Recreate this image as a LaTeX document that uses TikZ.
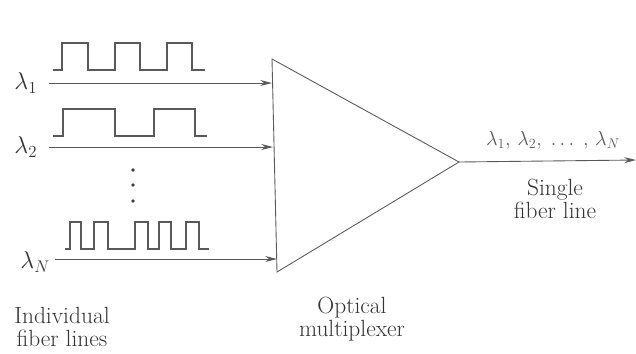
\documentclass[tikz,border=0pt]{standalone}
\usepackage{tikz}
\usetikzlibrary{arrows.meta,positioning,calc}

\begin{document}
\begin{tikzpicture}[
    x=0.03cm, y=-0.03cm,
    line/.style={draw=black!65, line width=0.75pt},
    arrow/.style={->, >={Stealth[length=10pt,width=5pt]}, draw=black!65, line width=0.75pt},
    pulse/.style={draw=black!65, line width=1pt},
    lam/.style={text=black!80, font=\fontsize{22}{24}\selectfont, inner sep=1pt},
    caption/.style={text=black!80, font=\fontsize{20}{20}\selectfont, align=center}
]
\useasboundingbox (0,0) rectangle (636,353);

% Multiplexer triangle
\coordinate (mtop) at (272,59);
\coordinate (mbot) at (277,272);
\coordinate (mtip) at (459,162);
\draw[line] (mtop) -- (mtip) -- (mbot) -- cycle;

% Input points on the left edge
\coordinate (in1) at (272,83);
\coordinate (in2) at (273,147);
\coordinate (inN) at (277,259);

% Wavelength labels
\node[lam, anchor=west] (lam1) at (13,83) {$\lambda_1$};
\node[lam, anchor=west] (lam2) at (13,147) {$\lambda_2$};
\node[lam, anchor=west] (lamN) at (19,262) {$\lambda_N$};

% Input fibers
\draw[arrow, shorten <=0.3cm] (lam1.east |- in1) -- (in1);
\draw[arrow, shorten <=0.3cm] (lam2.east |- in2) -- (in2);
\draw[arrow, shorten <=0.1cm] (lamN.east |- inN) -- (inN);

% Pulse trains
\draw[pulse] (53,70) -- (62,70) -- (62,43) -- (88,43) -- (88,70) -- (115,70) -- (115,43)
    -- (140,43) -- (140,70) -- (167,70) -- (167,43) -- (192,43) -- (192,70) -- (205,70);
\draw[pulse] (53,136) -- (63,136) -- (63,109) -- (115,109) -- (115,136) -- (154,136)
    -- (154,109) -- (195,109) -- (195,136) -- (207,136);
\draw[pulse] (65,249) -- (70,249) -- (70,222) -- (81,222) -- (81,249) -- (94,249)
    -- (94,222) -- (108,222) -- (108,249) -- (135,249) -- (135,222) -- (148,222)
    -- (148,249) -- (159,249) -- (159,222) -- (171,222) -- (171,249) -- (186,249)
    -- (186,222) -- (199,222) -- (199,249) -- (209,249);

% Vertical dots
\foreach \yy in {170,185,201}
    \fill[black!75] (133,\yy) circle (1.8);

% Output fiber
\coordinate (out) at (636,160);
\draw[arrow] (mtip) -- (out);
\node[lam, text=black!65, font=\fontsize{17}{20}\selectfont] (outlam) at (553,140)
    {$\lambda_1,\,\lambda_2,\;\ldots\;,\,\lambda_N$};

% Captions
\node[caption] (single) at (555,199) {Single\\fiber line};
\node[caption] (indiv) at (62,327) {Individual\\fiber lines};
\node[caption] (mux) at (352,319) {Optical\\multiplexer};

\end{tikzpicture}
\end{document}
